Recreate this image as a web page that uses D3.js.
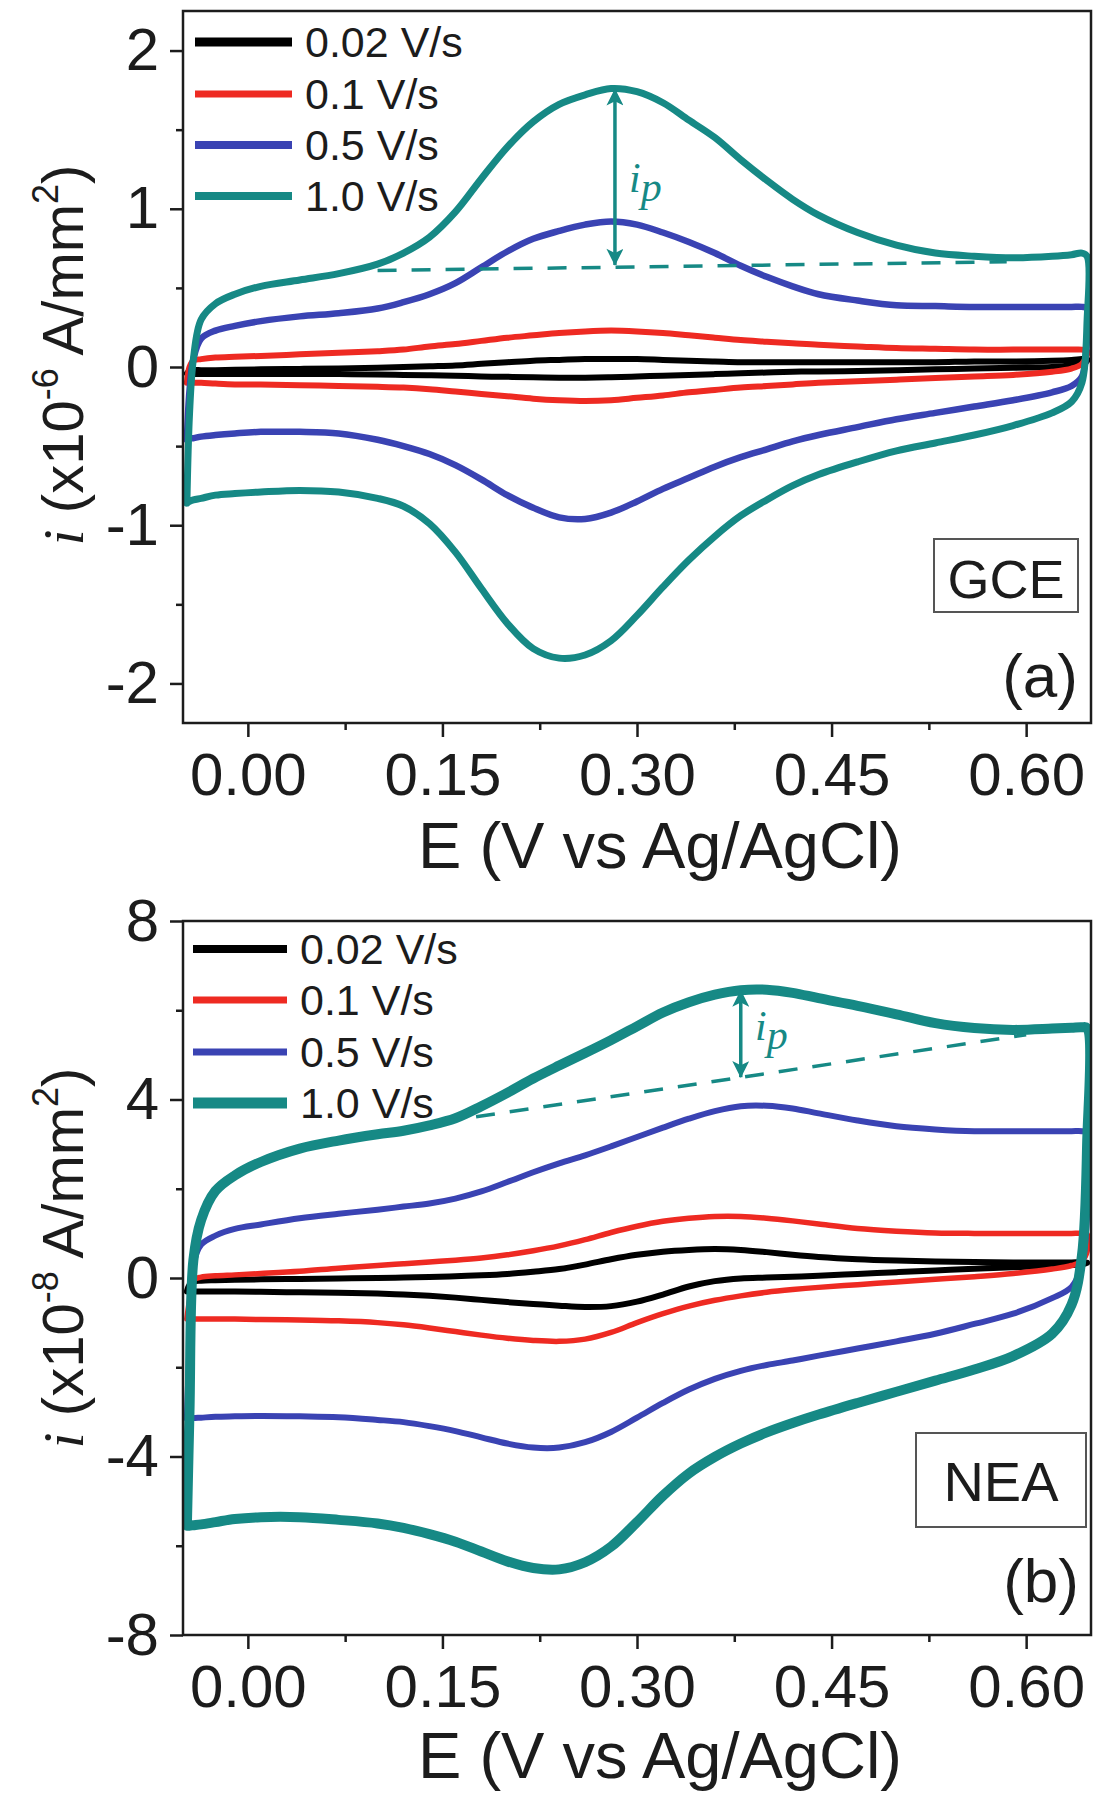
<!DOCTYPE html>
<html>
<head>
<meta charset="utf-8">
<script src="https://cdn.jsdelivr.net/npm/d3@7/dist/d3.min.js"></script>
<style>
  html,body{margin:0;padding:0;background:#fff;}
  svg{display:block;}
</style>
</head>
<body>
<svg id="chart" width="1104" height="1800"></svg>
<script>
// ---------------- DATA ----------------
// potential grid (V vs Ag/AgCl), shared by all branches
const potentials = [-0.047,-0.045,-0.042,-0.036,-0.025,-0.01,0.01,0.04,0.07,0.10,0.12,0.14,0.16,0.18,0.20,0.22,0.24,0.26,0.28,0.30,0.32,0.34,0.36,0.38,0.40,0.42,0.44,0.47,0.50,0.53,0.56,0.59,0.62,0.635,0.643,0.647];

const scanRates = ["0.02 V/s","0.1 V/s","0.5 V/s","1.0 V/s"];

// (a) GCE, current in 1e-6 A/mm2 ; fwd = anodic (upper) branch, rev = cathodic (lower) branch
const gce_002_fwd = [-0.04,-0.025,-0.02,-0.02,-0.02,-0.018,-0.015,-0.012,-0.01,-0.005,0.0,0.005,0.01,0.02,0.03,0.04,0.045,0.05,0.05,0.05,0.045,0.04,0.035,0.03,0.03,0.03,0.03,0.03,0.03,0.03,0.035,0.035,0.04,0.045,0.05,0.05];
const gce_002_rev = [-0.04,-0.045,-0.045,-0.045,-0.045,-0.045,-0.045,-0.045,-0.045,-0.047,-0.05,-0.052,-0.055,-0.06,-0.062,-0.065,-0.068,-0.068,-0.065,-0.06,-0.055,-0.05,-0.045,-0.04,-0.035,-0.03,-0.028,-0.025,-0.02,-0.015,-0.01,-0.005,0.0,0.01,0.02,0.04];
const gce_01_fwd  = [-0.10,0.0,0.04,0.05,0.06,0.065,0.07,0.08,0.09,0.10,0.11,0.13,0.145,0.165,0.185,0.20,0.215,0.225,0.23,0.225,0.215,0.20,0.185,0.17,0.16,0.15,0.14,0.13,0.12,0.115,0.11,0.11,0.11,0.11,0.11,0.10];
const gce_01_rev  = [-0.10,-0.10,-0.10,-0.10,-0.105,-0.11,-0.11,-0.115,-0.12,-0.125,-0.13,-0.14,-0.155,-0.17,-0.185,-0.20,-0.21,-0.215,-0.21,-0.195,-0.18,-0.16,-0.145,-0.13,-0.12,-0.11,-0.10,-0.09,-0.08,-0.07,-0.06,-0.05,-0.03,-0.01,0.02,0.08];
const gce_05_fwd  = [-0.46,-0.15,0.05,0.18,0.23,0.26,0.29,0.32,0.34,0.37,0.41,0.46,0.53,0.63,0.73,0.81,0.86,0.90,0.92,0.90,0.85,0.79,0.72,0.64,0.57,0.51,0.46,0.42,0.39,0.385,0.38,0.38,0.38,0.38,0.38,0.37];
const gce_05_rev  = [-0.46,-0.45,-0.45,-0.44,-0.43,-0.42,-0.41,-0.41,-0.42,-0.46,-0.50,-0.55,-0.62,-0.71,-0.81,-0.89,-0.95,-0.96,-0.92,-0.85,-0.77,-0.70,-0.63,-0.57,-0.52,-0.47,-0.43,-0.38,-0.33,-0.29,-0.25,-0.21,-0.16,-0.12,-0.06,0.20];
const gce_10_fwd  = [-0.86,-0.30,0.05,0.30,0.40,0.46,0.51,0.55,0.59,0.65,0.72,0.82,0.98,1.19,1.39,1.55,1.66,1.72,1.76,1.74,1.67,1.56,1.45,1.31,1.18,1.06,0.96,0.85,0.77,0.72,0.70,0.69,0.70,0.71,0.72,0.70];
const gce_10_rev  = [-0.86,-0.85,-0.84,-0.83,-0.81,-0.80,-0.79,-0.78,-0.79,-0.83,-0.88,-0.99,-1.17,-1.40,-1.62,-1.78,-1.84,-1.82,-1.73,-1.57,-1.39,-1.22,-1.07,-0.94,-0.84,-0.75,-0.68,-0.60,-0.53,-0.48,-0.43,-0.37,-0.29,-0.22,-0.10,0.30];

// (b) NEA, current in 1e-8 A/mm2
const nea_002_fwd = [-0.30,-0.15,-0.08,-0.06,-0.05,-0.04,-0.03,-0.02,-0.01,0.0,0.01,0.02,0.04,0.06,0.09,0.14,0.20,0.30,0.42,0.52,0.59,0.63,0.65,0.63,0.58,0.52,0.47,0.42,0.39,0.37,0.36,0.35,0.35,0.35,0.35,0.34];
const nea_002_rev = [-0.30,-0.30,-0.30,-0.30,-0.30,-0.30,-0.31,-0.32,-0.33,-0.35,-0.37,-0.40,-0.44,-0.49,-0.54,-0.58,-0.62,-0.65,-0.63,-0.53,-0.37,-0.19,-0.07,-0.01,0.01,0.03,0.05,0.09,0.13,0.17,0.21,0.24,0.27,0.29,0.31,0.34];
const nea_01_fwd  = [-0.92,-0.50,-0.05,0.02,0.05,0.07,0.10,0.15,0.22,0.28,0.32,0.36,0.40,0.45,0.52,0.61,0.72,0.86,1.02,1.16,1.27,1.34,1.38,1.38,1.34,1.28,1.21,1.11,1.05,1.01,1.00,1.00,1.00,1.00,1.00,0.98];
const nea_01_rev  = [-0.92,-0.92,-0.92,-0.92,-0.92,-0.92,-0.93,-0.94,-0.96,-1.00,-1.05,-1.12,-1.20,-1.28,-1.35,-1.40,-1.42,-1.37,-1.22,-1.00,-0.80,-0.63,-0.50,-0.40,-0.32,-0.26,-0.21,-0.15,-0.09,-0.03,0.03,0.10,0.20,0.28,0.38,0.60];
const nea_05_fwd  = [-3.15,-1.50,0.30,0.75,0.95,1.10,1.20,1.34,1.44,1.53,1.60,1.67,1.78,1.94,2.15,2.37,2.57,2.75,2.95,3.16,3.37,3.57,3.74,3.85,3.86,3.80,3.69,3.53,3.40,3.33,3.29,3.29,3.29,3.29,3.29,3.25];
const nea_05_rev  = [-3.15,-3.15,-3.14,-3.13,-3.11,-3.10,-3.09,-3.10,-3.12,-3.18,-3.23,-3.32,-3.43,-3.57,-3.71,-3.80,-3.80,-3.68,-3.45,-3.13,-2.80,-2.50,-2.26,-2.08,-1.95,-1.85,-1.74,-1.58,-1.42,-1.25,-1.03,-0.80,-0.45,-0.20,0.30,1.50];
const nea_10_fwd  = [-5.55,-3.00,0.40,1.30,1.95,2.30,2.60,2.90,3.08,3.22,3.30,3.42,3.58,3.85,4.15,4.47,4.76,5.04,5.33,5.64,5.95,6.18,6.35,6.45,6.46,6.39,6.27,6.10,5.91,5.71,5.60,5.56,5.59,5.61,5.62,5.60];
const nea_10_rev  = [-5.55,-5.55,-5.54,-5.52,-5.47,-5.40,-5.36,-5.36,-5.42,-5.50,-5.60,-5.74,-5.91,-6.13,-6.35,-6.50,-6.53,-6.37,-6.02,-5.47,-4.88,-4.38,-4.01,-3.71,-3.46,-3.25,-3.06,-2.80,-2.55,-2.30,-2.05,-1.75,-1.25,-0.60,0.50,3.00];

// baselines (dashed) and peak-current arrows: [E, i] pairs
const gceBaseline = [[0.10,0.61],[0.585,0.665]];
const gceArrow    = [[0.283,0.645],[0.283,1.755]];
const neaBaseline = [[0.15,3.50],[0.60,5.45]];
const neaArrow    = [[0.380,4.50],[0.380,6.44]];

// axis ticks
const xTicks      = [0.00,0.15,0.30,0.45,0.60];
const xMinorTicks = [0.075,0.225,0.375,0.525];
const gceYTicks   = [-2,-1,0,1,2];
const gceYMinor   = [-1.5,-0.5,0.5,1.5];
const neaYTicks   = [-8,-4,0,4,8];
const neaYMinor   = [-6,-2,2,6];

// ---------------- STYLE ----------------
const FONT  = "'Liberation Sans', Arial, Helvetica, sans-serif";
const SERIF = "'Liberation Serif', 'Times New Roman', serif";
const INK   = "#1c1c1c";
const seriesColors = ["#000000","#ee2a22","#3a43b3","#168985"];

const svg = d3.select("#chart");
const defs = svg.append("defs");
defs.append("marker")
  .attr("id","ahead").attr("viewBox","0 0 10 10")
  .attr("refX",9.5).attr("refY",5)
  .attr("markerUnits","userSpaceOnUse")
  .attr("markerWidth",24).attr("markerHeight",17)
  .attr("orient","auto-start-reverse")
  .append("path").attr("d","M0,0 L10,5 L0,10 L2.5,5 Z").attr("fill",seriesColors[3]);

const x = d3.scaleLinear().domain([-0.05,0.65]).range([183,1091]);

const panels = [
  { key:"a", top:11, bottom:723, domain:[-2.25,2.25], ticks:gceYTicks, minor:gceYMinor,
    series:[[gce_002_fwd,gce_002_rev],[gce_01_fwd,gce_01_rev],[gce_05_fwd,gce_05_rev],[gce_10_fwd,gce_10_rev]],
    widths:[6,6,6.5,7], legendWidths:[9,7,8,8],
    legendY:[42,94,145,196], legendX:[195,292,305],
    exp:"-6", titleY:355, xTitleY:868,
    baseline:gceBaseline, arrow:gceArrow, ipPos:[629,192],
    box:{x:934,y:539,w:144,h:73,label:"GCE",tx:1006,ty:598,fs:54},
    tag:{text:"(a)",x:1078,y:697} },
  { key:"b", top:921, bottom:1635, domain:[-8,8], ticks:neaYTicks, minor:neaYMinor,
    series:[[nea_002_fwd,nea_002_rev],[nea_01_fwd,nea_01_rev],[nea_05_fwd,nea_05_rev],[nea_10_fwd,nea_10_rev]],
    widths:[6,5.5,6,10], legendWidths:[8,7,7,11],
    legendY:[949,1000,1052,1103], legendX:[193,287,300],
    exp:"-8", titleY:1258, xTitleY:1778,
    baseline:neaBaseline, arrow:neaArrow, ipPos:[755,1040],
    box:{x:916,y:1433,w:170,h:94,label:"NEA",tx:1001,ty:1501,fs:56},
    tag:{text:"(b)",x:1079,y:1602} }
];

panels.forEach(p => {
  const y = d3.scaleLinear().domain(p.domain).range([p.bottom,p.top]);
  const g = svg.append("g");
  const clipId = "clip-"+p.key;
  defs.append("clipPath").attr("id",clipId)
    .append("rect").attr("x",183).attr("y",p.top).attr("width",908).attr("height",p.bottom-p.top);

  // CV loops
  const line = d3.line().x(d=>x(d[0])).y(d=>y(d[1])).curve(d3.curveCatmullRom.alpha(0.5));
  const plot = g.append("g").attr("clip-path",`url(#${clipId})`);
  p.series.forEach((br,k) => {
    const fwd = potentials.map((e,i)=>[e,br[0][i]]);
    const rev = potentials.map((e,i)=>[e,br[1][i]]).reverse();
    const pts = fwd.concat(rev);
    pts.push(pts[0]);
    plot.append("path").attr("d",line(pts))
      .attr("fill","none").attr("stroke",seriesColors[k])
      .attr("stroke-width",p.widths[k]).attr("stroke-linejoin","round").attr("stroke-linecap","round");
  });

  // baseline + arrow
  plot.append("line")
    .attr("x1",x(p.baseline[0][0])).attr("y1",y(p.baseline[0][1]))
    .attr("x2",x(p.baseline[1][0])).attr("y2",y(p.baseline[1][1]))
    .attr("stroke",seriesColors[3]).attr("stroke-width",3.5).attr("stroke-dasharray","19,15");
  plot.append("line")
    .attr("x1",x(p.arrow[0][0])).attr("y1",y(p.arrow[0][1]))
    .attr("x2",x(p.arrow[1][0])).attr("y2",y(p.arrow[1][1]))
    .attr("stroke",seriesColors[3]).attr("stroke-width",3.5)
    .attr("marker-start","url(#ahead)").attr("marker-end","url(#ahead)");
  const ip = g.append("text").attr("x",p.ipPos[0]).attr("y",p.ipPos[1])
    .attr("font-family",SERIF).attr("font-style","italic").attr("font-size",42)
    .attr("fill",seriesColors[3]);
  ip.append("tspan").text("i");
  ip.append("tspan").attr("dy",9).text("p");

  // frame
  g.append("rect").attr("x",183).attr("y",p.top).attr("width",908).attr("height",p.bottom-p.top)
    .attr("fill","none").attr("stroke",INK).attr("stroke-width",2.5);

  // axes
  const styleAxis = sel => {
    sel.attr("font-family",FONT).attr("font-size",60);
    sel.select(".domain").remove();
    sel.selectAll(".tick line").attr("stroke",INK).attr("stroke-width",2.5);
    sel.selectAll(".tick text").attr("fill",INK);
  };
  g.append("g").attr("transform","translate(183,0)")
    .call(d3.axisLeft(y).tickValues(p.ticks).tickSize(13).tickPadding(11).tickFormat(d=>String(d)))
    .call(styleAxis);
  g.append("g").attr("transform","translate(183,0)")
    .call(d3.axisLeft(y).tickValues(p.minor).tickSize(7).tickFormat(""))
    .call(styleAxis);
  g.append("g").attr("transform",`translate(0,${p.bottom})`)
    .call(d3.axisBottom(x).tickValues(xTicks).tickSize(14).tickPadding(15).tickFormat(d3.format(".2f")))
    .call(styleAxis);
  g.append("g").attr("transform",`translate(0,${p.bottom})`)
    .call(d3.axisBottom(x).tickValues(xMinorTicks).tickSize(7).tickFormat(""))
    .call(styleAxis);

  // x title
  g.append("text").attr("x",660).attr("y",p.xTitleY).attr("text-anchor","middle")
    .attr("font-family",FONT).attr("font-size",65).attr("fill",INK)
    .text("E (V vs Ag/AgCl)");

  // y title
  const yt = g.append("text").attr("transform",`translate(83,${p.titleY}) rotate(-90)`)
    .attr("text-anchor","middle").attr("font-family",FONT).attr("font-size",58).attr("fill",INK);
  yt.append("tspan").attr("font-family",SERIF).attr("font-style","italic").text("i");
  yt.append("tspan").text(" (x10");
  yt.append("tspan").attr("font-size",36).attr("dy",-25).text(p.exp);
  yt.append("tspan").attr("dy",25).text(" A/mm");
  yt.append("tspan").attr("font-size",36).attr("dy",-25).text("2");
  yt.append("tspan").attr("dy",25).text(")");

  // legend
  scanRates.forEach((lab,k) => {
    g.append("line").attr("x1",p.legendX[0]).attr("x2",p.legendX[1])
      .attr("y1",p.legendY[k]).attr("y2",p.legendY[k])
      .attr("stroke",seriesColors[k]).attr("stroke-width",p.legendWidths[k]);
    g.append("text").attr("x",p.legendX[2]).attr("y",p.legendY[k]).attr("dy","0.36em")
      .attr("font-family",FONT).attr("font-size",43).attr("fill",INK).text(lab);
  });

  // electrode box
  g.append("rect").attr("x",p.box.x).attr("y",p.box.y).attr("width",p.box.w).attr("height",p.box.h)
    .attr("fill","#fff").attr("stroke","#555").attr("stroke-width",2);
  g.append("text").attr("x",p.box.tx).attr("y",p.box.ty).attr("text-anchor","middle")
    .attr("font-family",FONT).attr("font-size",p.box.fs).attr("fill",INK).text(p.box.label);

  // panel tag
  g.append("text").attr("x",p.tag.x).attr("y",p.tag.y).attr("text-anchor","end")
    .attr("font-family",FONT).attr("font-size",62).attr("fill",INK).text(p.tag.text);
});
</script>
</body>
</html>
